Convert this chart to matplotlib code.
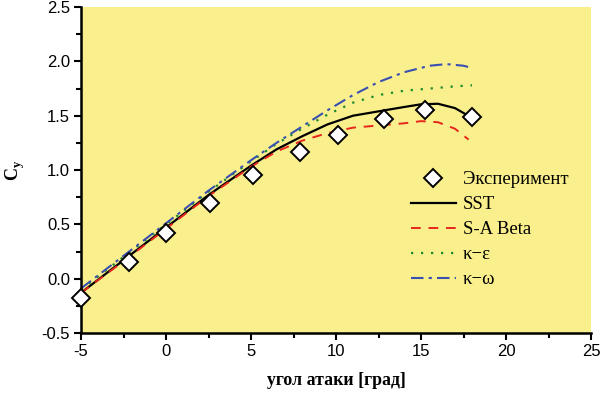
import matplotlib
matplotlib.use("Agg")
import matplotlib.pyplot as plt
from matplotlib.ticker import MultipleLocator

plt.rcParams["axes.unicode_minus"] = False

# Experiment
exp_x = [-5.0, -2.2, 0.0, 2.6, 5.1, 7.9, 10.1, 12.85, 15.25, 18.0]
exp_y = [-0.18, 0.15, 0.42, 0.70, 0.95, 1.17, 1.32, 1.47, 1.55, 1.49]

# SST
sst_x = [-5, -2.5, 0, 2.5, 5, 6.5, 8, 9.5, 11, 12.5, 14, 15, 16, 17, 18]
sst_y = [-0.13, 0.17, 0.47, 0.77, 1.04, 1.19, 1.31, 1.42, 1.50, 1.54, 1.58, 1.605, 1.61, 1.57, 1.48]

# S-A Beta
sa_x = [-5, -2.5, 0, 2.5, 5, 6.5, 8, 9.5, 11, 12.5, 14, 15, 16, 17, 17.8]
sa_y = [-0.13, 0.16, 0.46, 0.76, 1.03, 1.17, 1.27, 1.34, 1.39, 1.41, 1.43, 1.45, 1.44, 1.38, 1.28]

# k-epsilon
ke_x = [-5, -2.5, 0, 2.5, 5, 6.5, 8, 9.5, 11, 12.5, 14, 15.5, 17, 18]
ke_y = [-0.10, 0.20, 0.50, 0.80, 1.08, 1.24, 1.38, 1.51, 1.62, 1.69, 1.73, 1.75, 1.77, 1.78]

# k-omega
kw_x = [-5, -2.5, 0, 2.5, 5, 6.5, 8, 9.5, 11, 12.5, 14, 15.5, 16.5, 17.5, 18]
kw_y = [-0.09, 0.21, 0.51, 0.81, 1.09, 1.25, 1.40, 1.55, 1.69, 1.81, 1.90, 1.96, 1.975, 1.96, 1.94]

labels = ["Эксперимент", "SST", "S-A Beta", "κ−ε", "κ−ω"]

fig = plt.figure(figsize=(6.0, 3.93), dpi=100)
ax = fig.add_axes([0.135, 0.1527, 0.85, 0.8293])
ax.set_facecolor("#F9EF8C")

l1, = ax.plot(sst_x, sst_y, color="black", lw=1.6, linestyle="-", label=labels[1])
l2, = ax.plot(sa_x, sa_y, color="#E8261C", lw=1.4, linestyle=(0, (5, 4)), label=labels[2])
l3, = ax.plot(ke_x, ke_y, color="#1E8A2E", lw=1.6, linestyle=(0, (1, 3.5)), label=labels[3])
l4, = ax.plot(kw_x, kw_y, color="#3A50B0", lw=1.5, linestyle=(0, (6, 2.5, 1.5, 2.5)), label=labels[4])
m0, = ax.plot(exp_x, exp_y, linestyle="none", marker="D", markersize=9,
              markerfacecolor="white", markeredgecolor="black", markeredgewidth=1.4,
              label=labels[0], clip_on=False, zorder=5)

ax.set_xlim(-5, 25)
ax.set_ylim(-0.5, 2.5)
ax.xaxis.set_major_locator(MultipleLocator(5))
ax.xaxis.set_minor_locator(MultipleLocator(2.5))
ax.yaxis.set_major_locator(MultipleLocator(0.5))
ax.yaxis.set_minor_locator(MultipleLocator(0.25))
ax.yaxis.set_major_formatter(matplotlib.ticker.FormatStrFormatter("%.1f"))

for s in ["top", "right"]:
    ax.spines[s].set_visible(False)
for s in ["left", "bottom"]:
    ax.spines[s].set_linewidth(1.8)

ax.tick_params(which="major", direction="out", length=5, width=1.5, labelsize=12, pad=3)
ax.tick_params(which="minor", direction="out", length=3.5, width=1.5)
for lab in ax.get_xticklabels() + ax.get_yticklabels():
    lab.set_fontfamily("Liberation Sans")

ax.set_xlabel("угол атаки [град]", fontfamily="Liberation Serif", fontweight="bold",
              fontsize=12.8, labelpad=9)
ax.set_ylabel("C$_\\mathregular{y}$", fontfamily="Liberation Serif", fontweight="bold",
              fontsize=13, labelpad=10)

leg = ax.legend(handles=[m0, l1, l2, l3, l4], labels=labels,
                loc="upper left", bbox_to_anchor=(0.632, 0.52),
                frameon=False, handlelength=2.4, handletextpad=0.37,
                labelspacing=0.42, borderaxespad=0,
                prop={"family": "Liberation Serif", "size": 13.5})

fig.savefig("out.png", dpi=100)
